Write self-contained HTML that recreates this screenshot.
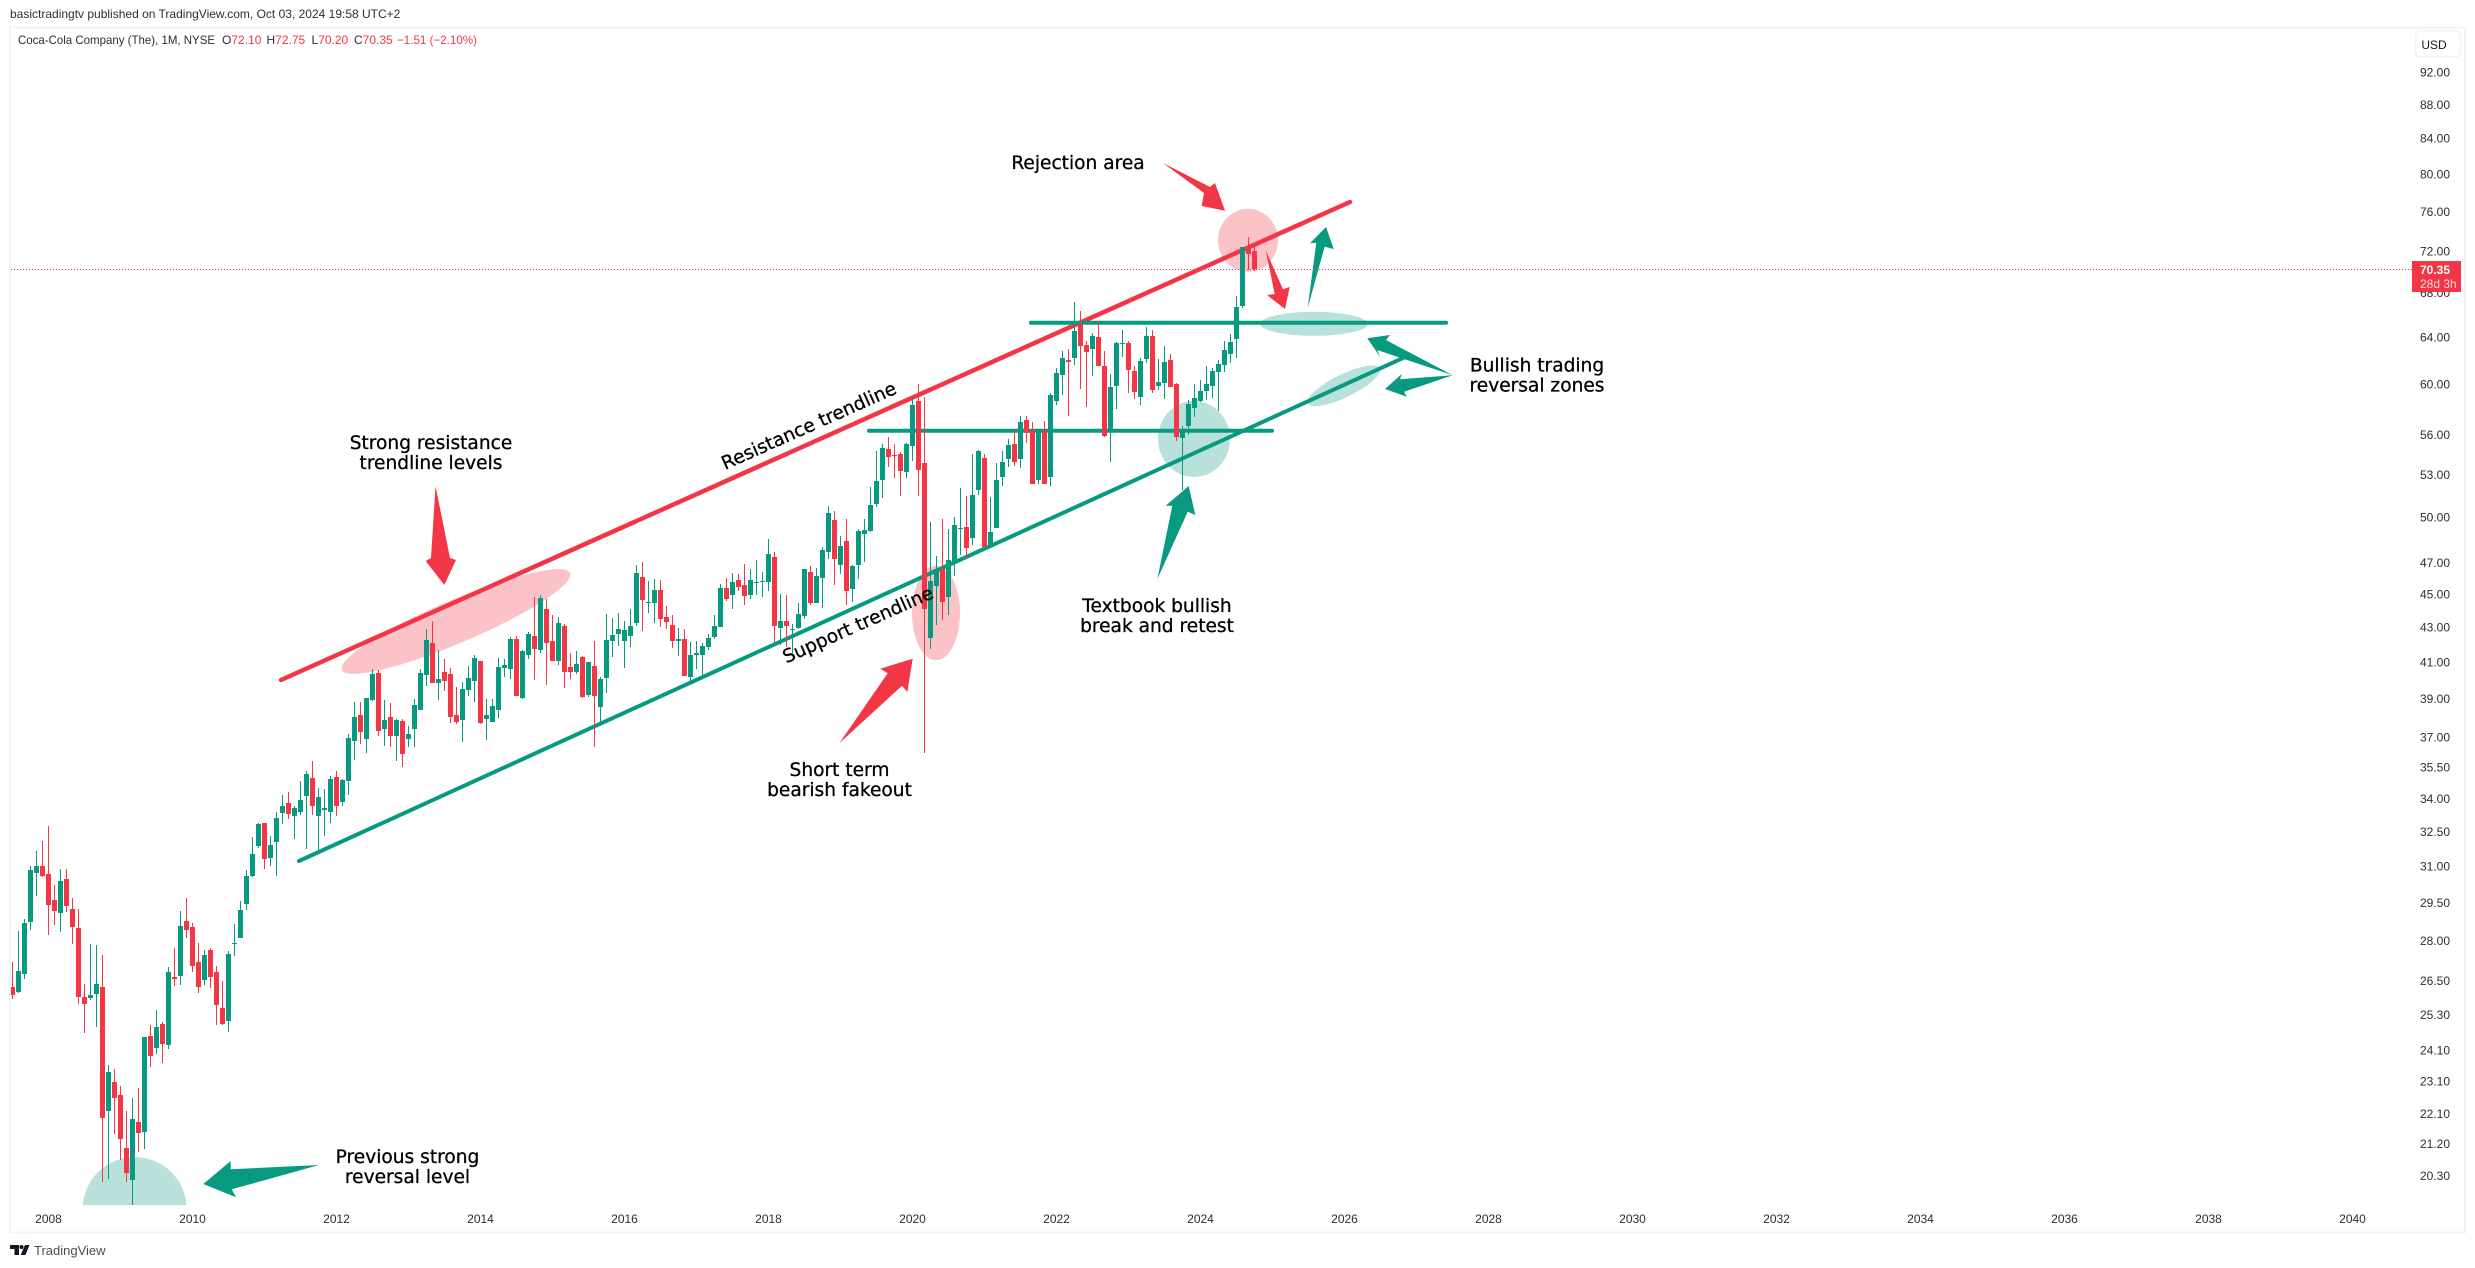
<!DOCTYPE html>
<html lang="en">
<head>
<meta charset="utf-8">
<title>Coca-Cola Company monthly chart</title>
<style>
html,body{margin:0;padding:0;background:#fff;width:2475px;height:1268px;overflow:hidden}
svg{display:block}
text{font-family:"Liberation Sans",sans-serif}
.note{font-family:"DejaVu Sans","Liberation Sans",sans-serif;font-size:18.6px;fill:#000;stroke:#000;stroke-width:0.3px;text-anchor:middle}
.tick{font-size:12px;fill:#2a2e39}
</style>
</head>
<body>
<svg id="chart" xmlns="http://www.w3.org/2000/svg" width="2475" height="1268" viewBox="0 0 2475 1268">
  <defs>
    <clipPath id="plot-clip"><rect x="11" y="29" width="2400" height="1176"/></clipPath>
  </defs>
  <rect x="0" y="0" width="2475" height="1268" fill="#ffffff"/>
  <text x="10" y="18" font-size="12" fill="#2a2e39">basictradingtv published on TradingView.com, Oct 03, 2024 19:58 UTC+2</text>
  <rect x="10" y="27.5" width="2455" height="1205" fill="none" stroke="#f0f3fa" stroke-width="2"/>

  <g font-size="12">
    <text x="18" y="44" fill="#2a2e39" textLength="197" lengthAdjust="spacingAndGlyphs">Coca-Cola Company (The), 1M, NYSE</text>
    <text x="222" y="44" fill="#f23645"><tspan fill="#2a2e39">O</tspan>72.10</text>
    <text x="266.5" y="44" fill="#f23645"><tspan fill="#2a2e39">H</tspan>72.75</text>
    <text x="311.5" y="44" fill="#f23645"><tspan fill="#2a2e39">L</tspan>70.20</text>
    <text x="354" y="44" fill="#f23645"><tspan fill="#2a2e39">C</tspan>70.35</text>
    <text x="397" y="44" fill="#f23645" textLength="80" lengthAdjust="spacingAndGlyphs">−1.51 (−2.10%)</text>
  </g>

  <g clip-path="url(#plot-clip)">
    <circle cx="134.7" cy="1209" r="52" fill="#089981" fill-opacity="0.29"/>
    <ellipse cx="456" cy="621.5" rx="124" ry="21.5" transform="rotate(-23 456 621.5)" fill="#f23645" fill-opacity="0.3"/>
    <ellipse cx="936" cy="613" rx="24" ry="47.3" fill="#f23645" fill-opacity="0.3"/>
    <ellipse cx="1248" cy="240.3" rx="30" ry="31.5" fill="#f23645" fill-opacity="0.3"/>
    <ellipse cx="1194" cy="439" rx="36" ry="38" fill="#089981" fill-opacity="0.29"/>
    <ellipse cx="1314" cy="323.8" rx="54" ry="12" fill="#089981" fill-opacity="0.29"/>
    <ellipse cx="1344" cy="385.8" rx="40" ry="11.5" transform="rotate(-26 1344 385.8)" fill="#089981" fill-opacity="0.29"/>

    <line x1="281" y1="680" x2="1350" y2="202" stroke="#f23645" stroke-width="4.5" stroke-linecap="round"/>
    <line x1="299" y1="861" x2="1403" y2="358" stroke="#089981" stroke-width="4" stroke-linecap="round"/>
    <line x1="1031" y1="322.7" x2="1446" y2="322.7" stroke="#089981" stroke-width="4" stroke-linecap="round"/>
    <line x1="869" y1="430.7" x2="1272" y2="430.7" stroke="#089981" stroke-width="4" stroke-linecap="round"/>

    <polygon points="319,1165 230.7,1169.3 230.7,1161 203.3,1184 236,1197.3 231.7,1189.3" fill="#089981"/>
    <polygon points="435.5,486 450,558 456,560 444.3,585 425.7,561 431,558" fill="#f23645"/>
    <polygon points="839.3,743.3 902,685.7 907.3,692 912.7,658.7 880.3,668.7 887.7,673.3" fill="#f23645"/>
    <polygon points="1157.3,579.3 1187.7,511.7 1195.3,515 1188.7,486 1165.7,505.7 1172.3,505.7" fill="#089981"/>
    <polygon points="1163,163 1204,193 1201.7,206 1225,210.7 1215,183 1210,187" fill="#f23645"/>
    <polygon points="1265.7,250.3 1274.7,294 1267,295 1285,309 1289.7,287 1283,289.3" fill="#f23645"/>
    <polygon points="1307.7,307.7 1324.7,246.7 1333.7,249 1326,227 1310,243.3 1316.3,242.7" fill="#089981"/>
    <polygon points="1452.7,375.3 1386,340 1390,335 1367.3,338.3 1380,356.7 1377.3,350" fill="#089981"/>
    <polygon points="1452.7,375.3 1400,379.3 1401.7,374 1385,389 1406.7,396.7 1404,391.7" fill="#089981"/>
  </g>

  <g id="candles" clip-path="url(#plot-clip)"></g>

  <g>
    <text class="note"><tspan x="407.5" y="1163">Previous strong</tspan><tspan x="407.5" y="1183">reversal level</tspan></text>
    <text class="note"><tspan x="431" y="449">Strong resistance</tspan><tspan x="431" y="469">trendline levels</tspan></text>
    <text class="note" x="1078" y="169">Rejection area</text>
    <text class="note" transform="translate(809 426) rotate(-24)" x="0" y="6">Resistance trendline</text>
    <text class="note" transform="translate(858 625) rotate(-24)" x="0" y="6">Support trendline</text>
    <text class="note"><tspan x="839.5" y="776">Short term</tspan><tspan x="839.5" y="796">bearish fakeout</tspan></text>
    <text class="note"><tspan x="1157" y="612">Textbook bullish</tspan><tspan x="1157" y="632">break and retest</tspan></text>
    <text class="note"><tspan x="1537" y="371.7">Bullish trading</tspan><tspan x="1537" y="391.7">reversal zones</tspan></text>
  </g>

  <line id="price-line" x1="11" x2="2412" stroke="#f23645" stroke-width="1" stroke-dasharray="1 2"/>
  <g id="x-axis"></g>
  <g id="y-axis"></g>

  <g>
    <rect x="2415.5" y="31" width="45" height="26" rx="4" fill="#ffffff" stroke="#f0f3fa" stroke-width="1.5"/>
    <text x="2434" y="49" font-size="12" fill="#131722" text-anchor="middle">USD</text>
  </g>

  <g>
    <rect x="2412" y="261" width="49" height="31" fill="#f23645"/>
    <text id="last-price-text" x="2420" y="274" font-size="12" font-weight="bold" fill="#ffffff"></text>
    <text x="2420" y="288" font-size="12" fill="#fcd5d8">28d 3h</text>
  </g>

  <g>
    <g fill="#131722">
      <path d="M10 1245h9v10h-4.500v-6H10z"/>
      <circle cx="21.500" cy="1247" r="2"/>
      <path d="M25 1245h4.500l-4 10h-4.800z"/>
    </g>
    <text x="34" y="1255" font-size="13" fill="#4a4e59">TradingView</text>
  </g>
</svg>

<script>
var firstBarYear = 2007;
var firstBarMonth = 7;
var yearTicks = [2008,2010,2012,2014,2016,2018,2020,2022,2024,2026,2028,2030,2032,2034,2036,2038,2040];
var priceTicks = ["92.00","88.00","84.00","80.00","76.00","72.00","68.00","64.00","60.00","56.00","53.00","50.00","47.00","45.00","43.00","41.00","39.00","37.00","35.50","34.00","32.50","31.00","29.50","28.00","26.50","25.30","24.10","23.10","22.10","21.20","20.30"];
var lastPrice = 70.35;

var opens = [
26.39,26.20,26.87,28.84,30.83,31.13,30.79,29.72,29.20,30.58,
29.36,28.60,26.03,26.00,26.14,26.39,22.29,23.18,22.77,21.18,
20.28,21.95,21.66,24.68,24.28,25.10,24.37,26.75,26.79,28.88,
28.64,27.31,26.65,27.76,26.94,25.66,25.19,28.00,28.21,29.56,
30.71,32.00,33.02,31.47,32.17,33.47,33.93,33.33,33.52,34.26,
35.11,33.33,33.61,33.52,35.16,33.98,34.97,36.92,38.29,37.02,
39.05,40.52,37.53,38.18,37.18,37.95,37.02,37.53,38.51,40.41,
42.20,39.97,40.58,40.47,38.29,38.00,39.58,40.09,41.20,38.05,
37.89,38.51,40.80,40.75,42.43,39.16,41.53,42.62,41.81,44.23,
42.32,41.20,43.21,40.86,40.58,41.42,39.32,40.91,38.67,40.25,
42.32,42.72,42.32,42.62,43.39,46.20,44.59,44.59,45.37,43.75,
43.27,42.32,42.43,40.30,41.53,41.53,41.98,42.55,43.15,45.50,
45.10,46.01,45.70,45.10,45.82,45.88,45.88,47.48,43.09,43.51,
42.97,43.09,43.81,46.51,44.59,46.13,47.80,49.94,46.98,48.52,
45.47,46.98,48.97,49.17,51.04,52.75,55.03,54.57,54.65,53.32,
55.25,58.75,53.99,42.49,45.62,46.70,44.96,47.24,49.34,49.47,
48.73,52.01,54.37,48.13,49.40,52.97,54.27,55.41,54.27,57.24,
56.41,52.74,56.41,52.97,58.75,60.88,62.14,62.31,65.27,63.43,
63.08,64.14,61.63,56.47,59.94,63.50,63.59,61.18,59.05,62.23,
64.23,59.94,60.19,62.14,60.11,55.87,56.78,58.20,58.75,59.56,
59.94,61.13,61.71,62.65,63.93,66.89,72.60,72.10];

var highs = [
27.31,28.49,28.96,31.13,31.78,32.22,32.89,30.33,31.00,31.00,
29.80,29.36,26.50,27.99,27.95,27.57,23.72,23.59,23.05,22.29,
22.68,22.98,24.65,25.06,25.59,25.17,27.13,27.84,29.28,29.80,
28.80,28.03,27.76,27.84,27.16,26.61,27.72,28.76,29.68,30.95,
32.40,33.02,33.02,32.44,33.51,34.30,34.45,33.79,34.97,35.45,
35.93,34.63,34.58,35.20,35.45,35.06,37.27,38.94,38.94,39.16,
40.75,40.69,39.05,38.89,38.05,38.05,37.69,39.10,40.75,43.02,
43.50,41.81,41.30,40.80,39.75,40.03,40.91,41.53,41.20,39.10,
39.10,41.36,41.30,42.55,42.62,41.81,42.84,44.98,45.10,44.84,
43.88,43.75,43.33,41.64,41.76,41.47,41.14,42.32,40.30,43.94,
43.69,44.00,43.50,44.23,46.96,47.15,45.95,46.08,46.01,44.41,
43.88,43.08,43.02,42.26,42.32,42.20,42.72,43.88,45.75,46.14,
46.44,46.38,47.02,46.70,47.28,46.49,48.66,47.80,45.14,45.08,
43.33,44.59,46.70,46.89,46.77,48.13,50.92,50.57,48.86,50.01,
46.98,49.30,49.98,52.22,54.88,55.40,55.93,55.40,54.80,55.48,
59.07,60.14,59.07,49.80,47.54,50.01,49.34,50.17,52.15,51.60,
54.65,54.95,54.65,51.53,54.00,54.88,55.80,56.56,57.55,57.55,
57.09,56.41,57.17,59.38,61.46,62.90,63.08,67.26,66.42,63.78,
64.49,65.54,62.90,60.96,63.68,64.75,63.78,61.63,62.31,65.00,
64.75,62.23,63.34,62.65,60.19,56.78,58.83,60.11,60.47,61.63,
61.46,62.14,63.78,64.40,67.80,72.50,73.50,72.75];

var lows = [
25.97,26.17,26.68,28.52,29.88,30.67,28.33,28.72,28.45,29.24,
27.99,25.79,24.79,25.93,25.00,20.22,20.30,21.59,20.84,20.22,
19.30,21.07,21.15,23.66,24.08,23.79,24.24,26.42,26.46,28.21,
26.94,26.17,26.46,26.35,25.06,25.06,24.82,27.53,28.21,29.32,
30.67,31.91,31.00,31.13,30.71,32.97,33.19,32.31,33.38,31.86,
33.38,31.82,32.45,33.02,33.33,33.80,34.31,36.00,36.78,36.34,
39.00,37.18,36.68,36.63,35.93,35.66,36.63,36.63,38.51,39.80,
39.97,39.05,39.54,37.84,37.79,36.88,39.27,38.94,37.79,36.97,
37.89,38.11,40.30,40.19,39.27,39.10,41.30,40.14,41.64,39.85,
41.20,40.97,39.70,40.19,40.47,39.16,39.21,36.63,37.89,39.43,
41.42,42.04,40.80,41.98,43.21,42.90,44.00,43.39,43.15,43.02,
41.93,41.48,40.36,40.09,40.75,40.36,41.81,42.43,43.15,44.71,
44.23,45.32,44.47,44.84,45.10,44.96,45.35,42.27,42.09,41.98,
41.62,43.03,43.63,44.47,44.59,44.29,47.34,45.72,46.38,44.47,
44.65,46.07,47.13,49.10,50.83,51.46,53.68,52.90,51.60,52.90,
54.14,51.60,36.33,41.87,43.27,43.57,43.87,46.26,47.61,47.34,
48.26,51.67,48.13,48.13,49.40,52.31,53.67,53.75,53.60,55.47,
52.45,52.45,52.45,52.31,58.43,59.22,57.55,61.71,59.69,58.25,
60.80,61.63,55.92,54.04,58.14,62.37,59.38,58.90,58.43,61.88,
59.38,59.67,58.90,59.86,55.65,52.00,56.09,57.51,58.67,58.83,
58.99,57.97,61.13,61.88,62.31,66.71,70.27,70.20];

var closes = [
26.10,26.97,28.80,30.96,31.13,30.71,29.52,29.28,30.50,29.48,
28.64,26.03,25.79,26.10,26.50,22.08,23.50,22.68,21.44,20.47,
22.04,21.62,24.65,24.02,24.99,24.41,26.94,26.68,28.68,28.52,
27.16,26.39,27.57,26.75,25.76,25.10,27.61,28.03,29.32,30.71,
31.65,32.97,31.43,32.04,33.24,33.79,33.42,33.70,34.07,35.30,
33.80,34.21,33.70,35.06,33.80,35.01,37.07,38.18,37.37,39.16,
40.47,37.43,38.00,37.18,38.00,36.28,37.27,38.78,40.52,42.37,
39.97,40.19,40.09,38.18,37.89,39.65,40.25,41.36,37.84,38.24,
38.72,40.86,40.97,42.43,39.27,41.76,42.72,41.87,44.91,42.20,
41.20,43.39,40.58,40.58,41.03,39.21,41.14,39.27,40.19,42.37,
42.66,43.02,42.96,43.21,46.44,44.77,44.65,45.37,43.62,43.45,
42.32,42.43,40.36,41.53,41.64,42.04,42.49,43.21,45.50,44.84,
45.89,45.57,45.03,46.01,45.89,45.94,47.67,43.21,43.51,43.21,
43.03,43.93,46.70,44.59,46.26,47.93,50.43,47.34,48.19,45.35,
46.92,49.17,49.24,50.97,52.68,55.10,54.42,54.47,53.40,55.40,
58.44,53.47,44.22,45.94,46.70,44.65,47.30,49.60,49.40,48.06,
51.67,54.88,48.13,49.10,52.75,54.04,55.33,54.04,57.09,56.26,
52.45,56.41,52.45,59.22,61.05,62.31,61.97,64.66,63.34,62.82,
64.23,61.63,56.00,59.86,63.59,63.59,61.27,59.46,62.05,64.23,
59.67,60.28,62.00,59.86,55.95,56.47,58.53,58.99,59.56,60.11,
61.18,61.80,62.99,63.68,66.81,72.50,71.81,70.35];

var SVG_NS = "http://www.w3.org/2000/svg";
var GREEN = "#089981";
var RED = "#f23645";

function xOfBar(i) {
  return 12 + 6 * i;
}
function xOfYear(year) {
  return xOfBar((year - firstBarYear) * 12 + 1 - firstBarMonth);
}
function yOfPrice(p) {
  return 72.6 + 732.3 * Math.log(92 / p);
}
function yOfTickLabel(p) {
  var y = yOfPrice(p);
  return y - 0.00277 * (y - 72.6) + 3.7;
}
function addRect(parent, x, y, w, h, fill) {
  var r = document.createElementNS(SVG_NS, "rect");
  r.setAttribute("x", x);
  r.setAttribute("y", y);
  r.setAttribute("width", w);
  r.setAttribute("height", h);
  r.setAttribute("fill", fill);
  parent.appendChild(r);
  return r;
}

var candleLayer = document.getElementById("candles");
for (var i = 0; i < closes.length; i++) {
  var color = closes[i] >= opens[i] ? GREEN : RED;
  var group = document.createElementNS(SVG_NS, "g");
  
  
  var wickTop = Math.round(yOfPrice(highs[i]));
  var wickBottom = Math.round(yOfPrice(lows[i]));
  var wick = addRect(group, xOfBar(i), wickTop, 1, Math.max(1, wickBottom - wickTop), color);
  
  
  var bodyTop = Math.round(yOfPrice(Math.max(opens[i], closes[i])));
  var bodyBottom = Math.round(yOfPrice(Math.min(opens[i], closes[i])));
  var body = addRect(group, xOfBar(i) - 2, bodyTop, 5, Math.max(1, bodyBottom - bodyTop), color);
  
  
  candleLayer.appendChild(group);
}

var xAxis = document.getElementById("x-axis");
yearTicks.forEach(function (year) {
  var t = document.createElementNS(SVG_NS, "text");
  
  
  t.setAttribute("class", "tick");
  t.setAttribute("x", xOfYear(year) + 0.5);
  t.setAttribute("y", 1223);
  t.setAttribute("text-anchor", "middle");
  t.textContent = year;
  xAxis.appendChild(t);
});

var yAxis = document.getElementById("y-axis");
priceTicks.forEach(function (label) {
  var t = document.createElementNS(SVG_NS, "text");
  
  
  t.setAttribute("class", "tick");
  t.setAttribute("x", 2420);
  t.setAttribute("y", yOfTickLabel(parseFloat(label)));
  t.textContent = label;
  yAxis.appendChild(t);
});

var priceLine = document.getElementById("price-line");
priceLine.setAttribute("y1", Math.round(yOfPrice(lastPrice)) + 0.5);
priceLine.setAttribute("y2", Math.round(yOfPrice(lastPrice)) + 0.5);
document.getElementById("last-price-text").textContent = lastPrice.toFixed(2);
</script>
</body>
</html>
